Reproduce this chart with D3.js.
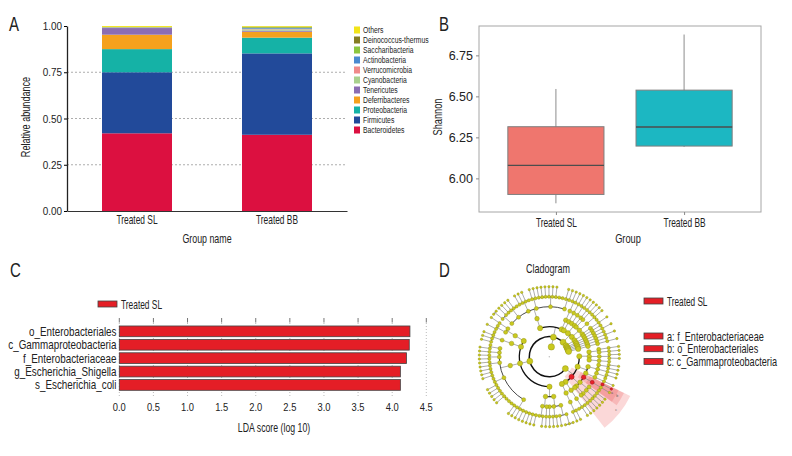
<!DOCTYPE html>
<html>
<head>
<meta charset="utf-8">
<script src="https://cdn.jsdelivr.net/npm/d3@7"></script>
<style>
body { margin: 0; background: #fff; }
text { font-family: "Liberation Sans", Arial, sans-serif; fill: #222; }
</style>
</head>
<body>
<svg id="fig" width="792" height="456"></svg>
<script>
// ---- panel A: relative abundance (phylum level)
var groups = ["Treated SL", "Treated BB"];
var phylaNames = ["Bacteroidetes", "Firmicutes", "Proteobacteria", "Deferribacteres", "Tenericutes",
  "Cyanobacteria", "Verrucomicrobia", "Actinobacteria", "Saccharibacteria", "Deinococcus-thermus", "Others"];
var phylaColors = ["#dc1040", "#224a9a", "#15b2a6", "#f5a11d", "#8b6db3",
  "#a9d18e", "#f08a8a", "#4a8ad0", "#8cc63f", "#857d22", "#f2e419"];
var abundSL = [0.420, 0.330, 0.125, 0.078, 0.036, 0.002, 0.001, 0.001, 0.001, 0.001, 0.005];
var abundBB = [0.412, 0.440, 0.085, 0.032, 0.006, 0.007, 0.003, 0.004, 0.004, 0.003, 0.004];
var abundTicks = [0, 0.25, 0.5, 0.75, 1];

// ---- panel B: Shannon index (lower whisker, q1, median, q3, upper whisker)
var boxStats = [[5.848, 5.902, 6.079, 6.315, 6.545], [6.192, 6.197, 6.313, 6.538, 6.877]];
var boxColors = ["#ef766e", "#1cb7c2"];
var shannonTicks = [6.00, 6.25, 6.50, 6.75];

// ---- panel C: LDA scores
var ldaTaxa = ["o_Enterobacteriales", "c_Gammaproteobacteria", "f_Enterobacteriaceae", "g_Escherichia_Shigella", "s_Escherichia_coli"];
var ldaScores = [4.26, 4.25, 4.21, 4.12, 4.12];
var ldaTicks = [0, 0.5, 1, 1.5, 2, 2.5, 3, 3.5, 4, 4.5];

// ---- panel D: taxonomy tree, class > order > family > genus (number = species count)
var cladeProteobacteria = [
  [[[1], [1]], [[1, 1]], [[0]]],                       // Alphaproteobacteria
  [[[1, 1], [1], [1, 0]], [[1]]],                      // Betaproteobacteria
  [[[1, 1, 0]], [[1], [1, 1]], [[1]], [[1]]],          // Gammaproteobacteria
  [[[1, 1, 0]]],                                       // Deltaproteobacteria
  [[[1, 1]]]                                           // Epsilonproteobacteria
];
var cladeFirmicutes = [
  [[[3, 1], [1, 1], [1]], [[1], [1, 0]]],              // Bacilli
  [[[1, 1, 1, 1, 1, 1, 1, 1, 0, 0, 0, 1], [1, 1, 1, 1, 0, 0, 1, 1, 1], [1, 1], [1, 1], [1], [1, 0]]], // Clostridia
  [[[1, 1, 1, 0]]],                                    // Erysipelotrichia
  [[[1, 0], [1]]]                                      // Negativicutes
];
var cladeBacteroidetes = [
  [[[2, 1], [1, 1, 1, 0], [1, 1, 1, 0], [1, 1], [1, 1, 1, 1, 1, 1, 0, 0], [1, 1]]], // Bacteroidia
  [[[1, 1]]],                                          // Flavobacteriia
  [[[1]]]                                              // Sphingobacteriia
];
var cladeActinobacteria = [[[[1, 1]], [[1]], [[1]]], [[[1, 1, 0]]]];
var cladeTenericutes = [[[[1]], [[0]]]];
var cladeDeferribacteres = [[[[1]]]];
var cladeCyanobacteria = [[[[0]]]];
var cladeVerrucomicrobia = [[[[1]]]];
var cladeSaccharibacteria = [[[[0]]]];
var cladeDeinococcus = [[[[1]]]];
var cladeList = [cladeProteobacteria, cladeFirmicutes, cladeBacteroidetes, cladeActinobacteria, cladeTenericutes,
  cladeDeferribacteres, cladeCyanobacteria, cladeVerrucomicrobia, cladeSaccharibacteria, cladeDeinococcus];
// phylum, class, order, family, genus, species index of the enriched lineage
var markedPath = [0, 2, 0, 0, 0, 0];
var markedLabels = ["c", "b", "a"];
var cladeLegend = ["a: f_Enterobacteriaceae", "b: o_Enterobacteriales", "c: c_Gammaproteobacteria"];

var svg = d3.select("#fig");
var red = "#e41e26";

// narrow the glyphs horizontally around each text's anchor (condensed look)
function squeeze(sel, s) {
  sel.each(function () {
    var t = d3.select(this);
    var x = +t.attr("x") || 0;
    var tr = t.attr("transform") || "";
    t.attr("transform", tr + " translate(" + x + ",0) scale(" + s + ",1) translate(" + (-x) + ",0)");
  });
}

// panel letters
svg.selectAll(".plab").data([["A", 9, 31], ["B", 439, 31], ["C", 10, 277], ["D", 439, 277]]).enter()
  .append("text").attr("class", "plab").attr("x", d => d[1]).attr("y", d => d[2]).attr("font-size", 20).text(d => d[0])
  .call(squeeze, 0.75);

// ================= A
var gA = svg.append("g");
var xA = d3.scaleBand().domain(groups).range([67, 347]).paddingInner(0.5).paddingOuter(0.25);
var yA = d3.scaleLinear().domain([0, 1]).range([211, 26]);

gA.selectAll(".grid").data(abundTicks.filter(t => t > 0 && t < 1)).enter().append("line")
  .attr("x1", 67).attr("x2", 347).attr("y1", yA).attr("y2", yA)
  .attr("stroke", "#8a8a8a").attr("stroke-width", 0.7).attr("stroke-dasharray", "2,2");

var tableA = groups.map(function (g, i) {
  var row = { group: g };
  var vals = i === 0 ? abundSL : abundBB;
  phylaNames.forEach(function (p, j) { row[p] = vals[j]; });
  return row;
});
var series = d3.stack().keys(phylaNames)(tableA);
gA.selectAll(".layer").data(series).enter().append("g")
  .attr("fill", (d, i) => phylaColors[i])
  .selectAll("rect").data(d => d).enter().append("rect")
  .attr("x", d => xA(d.data.group)).attr("width", xA.bandwidth())
  .attr("y", d => yA(d[1])).attr("height", d => yA(d[0]) - yA(d[1]));

var axAy = gA.append("g").attr("transform", "translate(67,0)")
  .call(d3.axisLeft(yA).tickValues(abundTicks).tickFormat(d3.format(".2f")).tickSize(3).tickSizeOuter(0).tickPadding(2));
axAy.select(".domain").attr("stroke", "#222").attr("stroke-width", 1.3);
axAy.selectAll("text").attr("font-size", 11).call(squeeze, 0.9);

var axAx = gA.append("g").attr("transform", "translate(0,211)")
  .call(d3.axisBottom(xA).tickSize(0).tickSizeOuter(0).tickPadding(4));
axAx.select(".domain").attr("stroke", "#333").attr("stroke-width", 1.2);
axAx.selectAll("text").attr("font-size", 12.5).call(squeeze, 0.67);

gA.append("text").attr("transform", "translate(25,117) rotate(-90)").attr("text-anchor", "middle")
  .attr("dominant-baseline", "central").attr("font-size", 12.3).text("Relative abundance").call(squeeze, 0.74);
gA.append("text").attr("x", 207).attr("y", 238).attr("text-anchor", "middle")
  .attr("dominant-baseline", "central").attr("font-size", 12.3).text("Group name").call(squeeze, 0.72);

var legA = gA.selectAll(".leg").data(phylaNames.slice().reverse()).enter().append("g")
  .attr("transform", (d, i) => "translate(354," + (30 + i * 10) + ")");
legA.append("rect").attr("x", 0).attr("y", -3.5).attr("width", 6).attr("height", 7)
  .attr("fill", d => phylaColors[phylaNames.indexOf(d)]);
legA.append("text").attr("x", 9).attr("y", 0.3).attr("dominant-baseline", "central")
  .attr("font-size", 8.6).text(d => d).call(squeeze, 0.79);

// ================= B
var gB = svg.append("g");
var xB = d3.scalePoint().domain(groups).range([479, 761]).padding(0.6);
var yB = d3.scaleLinear().domain([5.795, 6.929]).range([212, 26]);
var bw = xB.step() * 0.75;

gB.append("rect").attr("x", 479).attr("y", 26).attr("width", 282).attr("height", 186)
  .attr("fill", "none").attr("stroke", "#a6a6a6").attr("stroke-width", 1);

var boxes = gB.selectAll(".box").data(groups).enter().append("g");
boxes.append("line")
  .attr("x1", d => xB(d)).attr("x2", d => xB(d))
  .attr("y1", (d, i) => yB(boxStats[i][0])).attr("y2", (d, i) => yB(boxStats[i][4]))
  .attr("stroke", "#8c8c8c").attr("stroke-width", 1);
boxes.append("rect")
  .attr("x", d => xB(d) - bw / 2).attr("width", bw)
  .attr("y", (d, i) => yB(boxStats[i][3])).attr("height", (d, i) => yB(boxStats[i][1]) - yB(boxStats[i][3]))
  .attr("fill", (d, i) => boxColors[i]).attr("stroke", "#7f7f7f").attr("stroke-width", 1);
boxes.append("line")
  .attr("x1", d => xB(d) - bw / 2).attr("x2", d => xB(d) + bw / 2)
  .attr("y1", (d, i) => yB(boxStats[i][2])).attr("y2", (d, i) => yB(boxStats[i][2]))
  .attr("stroke", "#4d4d4d").attr("stroke-width", 1.4);

var axBy = gB.append("g").attr("transform", "translate(479,0)")
  .call(d3.axisLeft(yB).tickValues(shannonTicks).tickFormat(d3.format(".2f")).tickSize(3).tickPadding(3));
axBy.select(".domain").remove();
axBy.selectAll("line").attr("stroke", "#888");
axBy.selectAll("text").attr("font-size", 12.5);

var axBx = gB.append("g").attr("transform", "translate(0,212)")
  .call(d3.axisBottom(xB).tickSize(3).tickPadding(3));
axBx.select(".domain").remove();
axBx.selectAll("line").attr("stroke", "#888");
axBx.selectAll("text").attr("font-size", 12.5).call(squeeze, 0.67);

gB.append("text").attr("transform", "translate(437,117) rotate(-90)").attr("text-anchor", "middle")
  .attr("dominant-baseline", "central").attr("font-size", 12.5).text("Shannon").call(squeeze, 0.74);
gB.append("text").attr("x", 628).attr("y", 238).attr("text-anchor", "middle")
  .attr("dominant-baseline", "central").attr("font-size", 12.5).text("Group").call(squeeze, 0.74);

// ================= C
var gC = svg.append("g");
var xC = d3.scaleLinear().domain([0, 4.5]).range([119.3, 426.3]);
var yC = d3.scaleBand().domain(ldaTaxa).range([323.3, 393]).padding(0.2);

gC.selectAll(".vgrid").data(ldaTicks).enter().append("line")
  .attr("x1", xC).attr("x2", xC).attr("y1", 323).attr("y2", 397)
  .attr("stroke", "#aaa").attr("stroke-width", 0.8).attr("stroke-dasharray", "1,2");
gC.selectAll(".vtick").data(ldaTicks).enter().append("line")
  .attr("x1", xC).attr("x2", xC).attr("y1", 318).attr("y2", 322.5)
  .attr("stroke", "#666").attr("stroke-width", 0.9);

gC.selectAll(".bar").data(ldaTaxa).enter().append("rect")
  .attr("x", xC(0)).attr("y", d => yC(d))
  .attr("width", (d, i) => xC(ldaScores[i]) - xC(0)).attr("height", yC.bandwidth())
  .attr("fill", red).attr("stroke", "#444").attr("stroke-width", 0.8);

gC.selectAll(".ylab").data(ldaTaxa).enter().append("text")
  .attr("x", 116.5).attr("y", d => yC(d) + yC.bandwidth() / 2)
  .attr("text-anchor", "end").attr("dominant-baseline", "central").attr("font-size", 12.3).text(d => d)
  .call(squeeze, 0.8);

gC.selectAll(".xlab").data(ldaTicks).enter().append("text")
  .attr("x", xC).attr("y", 407).attr("text-anchor", "middle").attr("dominant-baseline", "central")
  .attr("font-size", 11).text(d3.format(".1f")).call(squeeze, 0.85);

gC.append("text").attr("x", 274).attr("y", 427).attr("text-anchor", "middle")
  .attr("dominant-baseline", "central").attr("font-size", 12.5).text("LDA score (log 10)").call(squeeze, 0.7);

gC.append("rect").attr("x", 98).attr("y", 301).attr("width", 19).attr("height", 6)
  .attr("fill", red).attr("stroke", "#444").attr("stroke-width", 0.8);
gC.append("text").attr("x", 121).attr("y", 304.5).attr("dominant-baseline", "central")
  .attr("font-size", 12.5).text(groups[0]).call(squeeze, 0.67);

// ================= D
var gD = svg.append("g");
var cx = 549.3, cy = 356.7;

function build(v, idx) {
  if (typeof v === "number") return { idx: idx, children: d3.range(v).map(i => ({ idx: i })) };
  return { idx: idx, children: v.map((c, i) => build(c, i)) };
}
var root = d3.hierarchy({ idx: 0, children: cladeList.map((c, i) => build(c, i)) });
var nLeaves = root.leaves().length;
d3.cluster().size([2 * Math.PI * (1 - 1 / nLeaves), 1]).separation(() => 1)(root);

var marked = [];
var cur = root;
markedPath.forEach(function (k) { cur = cur.children[k]; marked.push(cur); });
marked = marked.slice(1); // class .. species

var targetAngle = 39 * Math.PI / 180;
var gLeaves = marked[0].leaves();
var offset = targetAngle - (gLeaves[0].x + gLeaves[gLeaves.length - 1].x) / 2;
var half = Math.PI / nLeaves;
var rD = d3.scaleLinear().domain([0, 6]).range([10, 70]);
root.each(function (d) { d.a = d.x + offset; d.r = rD(d.depth); });
function pt(r, a) { return [cx + r * Math.cos(a), cy + r * Math.sin(a)]; }

// highlighted clade wedges
var wedgeOuter = [90, 83, 77];
marked.slice(0, 3).forEach(function (d, i) {
  var lv = d.leaves();
  var a0 = lv[0].a - half, a1 = lv[lv.length - 1].a + half;
  var arc = d3.arc().innerRadius(d.r - 5).outerRadius(wedgeOuter[i])
    .startAngle(a0 + Math.PI / 2).endAngle(a1 + Math.PI / 2);
  gD.append("path").attr("transform", "translate(" + cx + "," + cy + ")").attr("d", arc())
    .attr("fill", "rgba(235,60,60,0.2)");
  var lp = pt(wedgeOuter[i] - 4, (a0 + a1) / 2);
  gD.append("text").attr("x", lp[0]).attr("y", lp[1]).attr("font-size", 3.5).attr("text-anchor", "middle")
    .style("fill", "#555").text(markedLabels[i]);
});

// links: radial stub from node, arc at children's radius
var arcW = [1.5, 1.3, 1.1, 0.9, 0.75, 0.65];
root.descendants().filter(d => d.children).forEach(function (d) {
  var rc = rD(d.depth + 1);
  var p0 = pt(d.r, d.a), p1 = pt(rc, d.a);
  gD.append("line").attr("x1", p0[0]).attr("y1", p0[1]).attr("x2", p1[0]).attr("y2", p1[1])
    .attr("stroke", "#8a8a8a").attr("stroke-width", 0.7);
  if (d.children.length > 1) {
    var a0 = d.children[0].a, a1 = d.children[d.children.length - 1].a;
    var p = d3.path();
    p.arc(cx, cy, rc, a0, a1);
    gD.append("path").attr("d", p.toString()).attr("fill", "none")
      .attr("stroke", d.depth < 3 ? "#111" : "#333").attr("stroke-width", arcW[d.depth]);
  }
});

// nodes
var nodeR = [3.2, 3.0, 2.6, 2.3, 2.0, 1.6, 1.2];
gD.append("circle").attr("cx", cx).attr("cy", cy).attr("r", 0.7).attr("fill", "#bbb");
gD.selectAll(".node").data(root.descendants()).enter().append("circle")
  .attr("cx", d => pt(d.r, d.a)[0]).attr("cy", d => pt(d.r, d.a)[1])
  .attr("r", d => nodeR[d.depth])
  .attr("fill", d => marked.indexOf(d) >= 0 ? "#e8202a" : "#c9c91f")
  .attr("stroke", d => marked.indexOf(d) >= 0 ? "#8a1010" : "#8e8e12").attr("stroke-width", 0.4);

gD.append("text").attr("x", 548).attr("y", 268).attr("text-anchor", "middle")
  .attr("dominant-baseline", "central").attr("font-size", 12.5).text("Cladogram").call(squeeze, 0.72);

gD.append("rect").attr("x", 644).attr("y", 298).attr("width", 19).attr("height", 6)
  .attr("fill", red).attr("stroke", "#444").attr("stroke-width", 0.8);
gD.append("text").attr("x", 667).attr("y", 301).attr("dominant-baseline", "central")
  .attr("font-size", 12.5).text(groups[0]).call(squeeze, 0.66);
var legD = gD.selectAll(".legd").data(cladeLegend).enter().append("g")
  .attr("transform", (d, i) => "translate(644," + (333 + i * 12.7) + ")");
legD.append("rect").attr("width", 19).attr("height", 6)
  .attr("fill", red).attr("stroke", "#444").attr("stroke-width", 0.8);
legD.append("text").attr("x", 23).attr("y", 3).attr("dominant-baseline", "central")
  .attr("font-size", 12.5).text(d => d).call(squeeze, 0.73);
</script>
</body>
</html>
